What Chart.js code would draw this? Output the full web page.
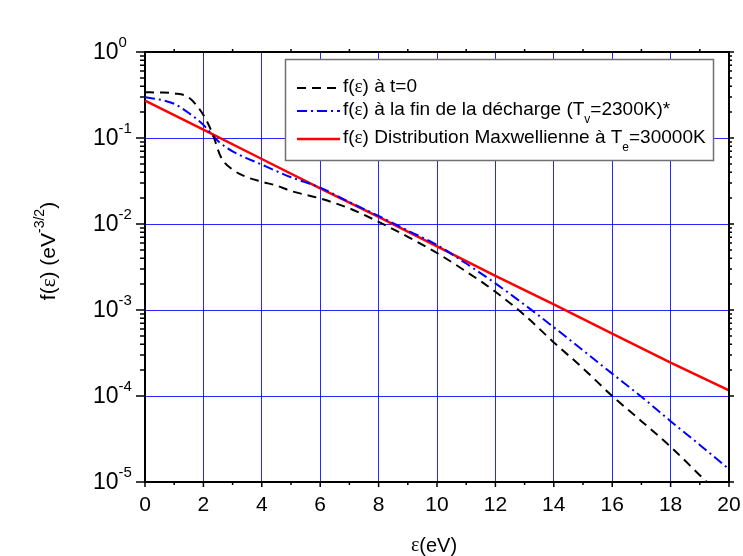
<!DOCTYPE html>
<html><head><meta charset="utf-8">
<script src="https://cdn.jsdelivr.net/npm/chart.js@4.4.0/dist/chart.umd.min.js"></script>
<style>html,body{margin:0;padding:0;background:#fff;} #wrap{width:743px;height:556px;}</style>
</head><body><div id="wrap"><canvas id="c" width="743" height="556"></canvas></div>
<script>
// ---- data ----
const energy_t0 = [0, 0.5, 1, 1.5, 2, 2.3, 2.6, 3, 3.5, 4, 4.5, 5, 6, 7, 8, 9, 10, 11, 12, 13, 14, 15, 16, 17, 18, 19, 20];
const f_t0 = [0.34, 0.338, 0.33, 0.295, 0.185, 0.115, 0.06, 0.043, 0.035, 0.031, 0.028, 0.0242, 0.0198, 0.0152, 0.0106, 0.0071, 0.0046, 0.0028, 0.00163, 0.00087, 0.00042, 0.00021, 0.0001, 5.1e-5, 2.57e-5, 1.2e-5, 5.6e-6];

const energy_end = [0, 0.5, 1, 1.5, 2, 2.5, 3, 4, 5, 6, 7, 8, 9, 10, 11, 12, 13, 14, 15, 16, 17, 18, 19, 20];
const f_end = [0.297, 0.28, 0.25, 0.195, 0.142, 0.092, 0.07, 0.049, 0.035, 0.0265, 0.018, 0.0124, 0.0084, 0.0057, 0.00347, 0.00204, 0.00115, 0.00063, 0.00034, 0.000182, 9.8e-5, 5.1e-5, 2.7e-5, 1.41e-5];

const energy_maxw = [0, 2, 4, 6, 8, 10, 12, 14, 16, 18, 20];
const f_maxw = [0.272, 0.125, 0.057, 0.026, 0.0121, 0.0055, 0.0025, 0.00116, 0.00053, 0.000245, 0.000116];

const xTickValues = [0, 2, 4, 6, 8, 10, 12, 14, 16, 18, 20];
const yDecadeExponents = [0, -1, -2, -3, -4, -5];

const legendTexts = [
  [{t:'f('},{t:'ε',serif:true},{t:') à t=0'}],
  [{t:'f('},{t:'ε',serif:true},{t:') à la fin de la décharge (T'},{t:'v',sub:true},{t:'=2300K)*'}],
  [{t:'f('},{t:'ε',serif:true},{t:') Distribution Maxwellienne à T'},{t:'e',sub:true},{t:'=30000K'}]
];
const yTitleRuns = [{t:'f('},{t:'ε',serif:true},{t:') (eV'},{t:'-3/2',sup:true},{t:')'}];
const xTitleRuns = [{t:'ε',serif:true},{t:'(eV)'}];

// ---- styling ----
const SANS = '"Liberation Sans", Arial, sans-serif';
const SERIF = '"Liberation Serif", "Times New Roman", serif';
const GRID = 'rgba(0,0,255,0.85)';

function runFont(r, size){
  let s = r.sub || r.sup ? Math.round(size*0.65) : size;
  return s + 'px ' + (r.serif ? SERIF : SANS);
}
function runsWidth(ctx, runs, size){
  let w = 0;
  for (const r of runs){ ctx.font = runFont(r, size); w += ctx.measureText(r.t).width; }
  return w;
}
function drawRuns(ctx, runs, x, y, size, align){
  const w = runsWidth(ctx, runs, size);
  let cx = align === 'center' ? x - w/2 : (align === 'right' ? x - w : x);
  ctx.textAlign = 'left'; ctx.textBaseline = 'middle';
  for (const r of runs){
    ctx.font = runFont(r, size);
    let dy = r.sub ? size*0.5 : (r.sup ? -size*0.42 : 0);
    ctx.fillText(r.t, cx, y + dy);
    cx += ctx.measureText(r.t).width;
  }
}

const pts = (xs, ys) => xs.map((x, i) => ({x: x, y: ys[i]}));

const decor = {
  id: 'decor',
  afterDatasetsDraw(chart){
    const ctx = chart.ctx, a = chart.chartArea;
    const xs = chart.scales.x, ys = chart.scales.y;
    ctx.save();
    ctx.strokeStyle = '#000'; ctx.lineWidth = 2; ctx.setLineDash([]);
    // top & right frame
    ctx.beginPath();
    ctx.moveTo(a.left, a.top); ctx.lineTo(a.right, a.top); ctx.lineTo(a.right, a.bottom);
    ctx.stroke();
    // x ticks
    ctx.lineWidth = 1.5;
    ctx.beginPath();
    for (let v = 0; v <= 20; v++){
      const px = xs.getPixelForValue(v);
      const major = v % 2 === 0;
      ctx.moveTo(px, a.bottom); ctx.lineTo(px, a.bottom + (major ? 5 : 3));
      if (!major){ ctx.moveTo(px, a.top); ctx.lineTo(px, a.top - 3); }
    }
    // y ticks (left outward, right outward)
    for (const e of yDecadeExponents){
      for (let m = 1; m <= 9; m++){
        if ((e === -5 || e === 0) && m > 1) break;
        const py = ys.getPixelForValue(m * Math.pow(10, e));
        const major = m === 1;
        ctx.moveTo(a.left, py); ctx.lineTo(a.left - (major ? 9 : 5), py);
        ctx.moveTo(a.right, py); ctx.lineTo(a.right + (major ? 5 : 3), py);
      }
    }
    ctx.stroke();

    // legend box
    const bx = 285.5, by = 59.5, bw = 428, bh = 101;
    ctx.fillStyle = '#fff';
    ctx.fillRect(bx, by, bw, bh);
    ctx.strokeStyle = '#707070'; ctx.lineWidth = 1.5;
    ctx.strokeRect(bx, by, bw, bh);
    const rowsY = [88, 111, 139];
    chart.data.datasets.forEach((ds, i) => {
      ctx.strokeStyle = ds.borderColor; ctx.lineWidth = ds.borderWidth;
      ctx.setLineDash(ds.borderDash || []);
      ctx.beginPath(); ctx.moveTo(297, rowsY[i]); ctx.lineTo(340, rowsY[i]); ctx.stroke();
      ctx.setLineDash([]);
      ctx.fillStyle = '#000';
      drawRuns(ctx, legendTexts[i], 343, rowsY[i] - 1, 19, 'left');
    });
    ctx.restore();
  },
  afterDraw(chart){
    const ctx = chart.ctx, a = chart.chartArea, ys = chart.scales.y;
    ctx.save();
    ctx.fillStyle = '#000';
    // y tick labels 10^n
    for (const e of yDecadeExponents){
      const py = ys.getPixelForValue(Math.pow(10, e));
      const runs = [{t:'10'},{t:String(e),sup:true}];
      drawRuns(ctx, runs, 93, py + 1, 23, 'left');
    }
    // y title (rotated)
    ctx.translate(49, 251);
    ctx.rotate(-Math.PI/2);
    drawRuns(ctx, yTitleRuns, 0, 0, 21, 'center');
    ctx.setTransform(1,0,0,1,0,0);
    // x title
    drawRuns(ctx, xTitleRuns, (a.left + a.right)/2 - 3, 546, 20, 'center');
    ctx.restore();
  }
};

new Chart(document.getElementById('c').getContext('2d'), {
  type: 'line',
  data: { datasets: [
    { label: 't0', data: pts(energy_t0, f_t0), borderColor: '#000000', borderWidth: 2, borderDash: [9, 6],
      pointRadius: 0, cubicInterpolationMode: 'monotone', fill: false },
    { label: 'end', data: pts(energy_end, f_end), borderColor: '#0000ff', borderWidth: 2, borderDash: [10, 4, 2, 4],
      pointRadius: 0, cubicInterpolationMode: 'monotone', fill: false },
    { label: 'maxw', data: pts(energy_maxw, f_maxw), borderColor: '#ff0000', borderWidth: 2.5,
      pointRadius: 0, tension: 0, fill: false }
  ]},
  options: {
    responsive: false, animation: false, devicePixelRatio: 1,
    layout: { padding: { left: 0, right: 14, top: 52, bottom: 0 } },
    plugins: { legend: { display: false }, tooltip: { enabled: false }, title: { display: false } },
    scales: {
      x: {
        type: 'linear', min: 0, max: 20,
        afterBuildTicks: s => { s.ticks = xTickValues.map(v => ({ value: v })); },
        afterFit: s => { s.height = 74; s.paddingLeft = 0; s.paddingRight = 0; },
        ticks: { font: { family: SANS, size: 21 }, color: '#000', padding: 11, maxRotation: 0, autoSkip: false },
        grid: { color: GRID, lineWidth: 1, drawTicks: false },
        border: { color: '#000', width: 2 }
      },
      y: {
        type: 'logarithmic', min: 1e-5, max: 1,
        afterBuildTicks: s => { s.ticks = yDecadeExponents.map(e => ({ value: Math.pow(10, e) })); },
        afterFit: s => { s.width = 145; s.paddingTop = 0; s.paddingBottom = 0; },
        ticks: { display: false },
        grid: { color: GRID, lineWidth: 1, drawTicks: false },
        border: { color: '#000', width: 2 }
      }
    }
  },
  plugins: [decor]
});
</script>
</body></html>
